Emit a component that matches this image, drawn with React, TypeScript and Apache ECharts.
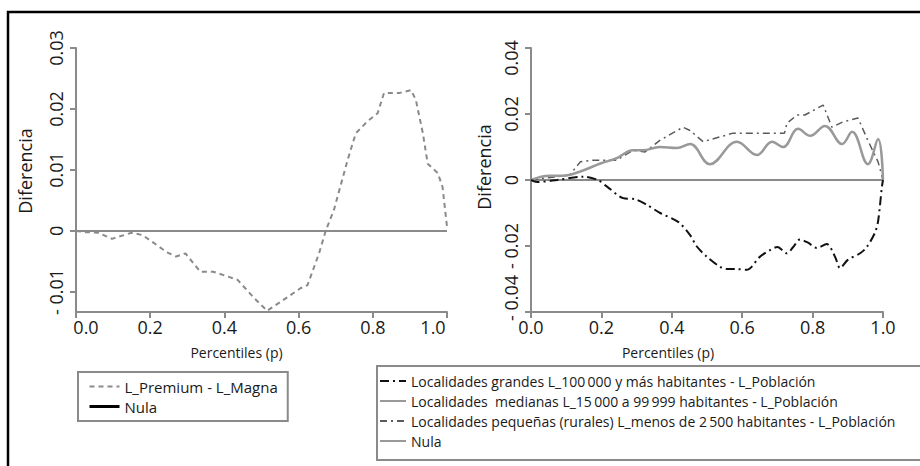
import React, { useEffect, useRef } from "react";
import * as echarts from "echarts";

// ---- Left chart data ----
const premiumP = [0, 0.024, 0.06, 0.097, 0.15, 0.18, 0.245, 0.27, 0.295, 0.335, 0.37, 0.435, 0.48, 0.515, 0.55, 0.605, 0.624, 0.655, 0.673, 0.695, 0.732, 0.754, 0.786, 0.813, 0.83, 0.87, 0.903, 0.916, 0.935, 0.948, 0.975, 0.988, 1.0];
const premiumV = [0, -0.0002, -0.0003, -0.0013, -0.0003, -0.0007, -0.0035, -0.0042, -0.0037, -0.0067, -0.0067, -0.008, -0.011, -0.0131, -0.0117, -0.0094, -0.0089, -0.0037, 0, 0.0034, 0.0116, 0.016, 0.018, 0.0193, 0.0226, 0.0226, 0.0231, 0.0215, 0.016, 0.011, 0.0095, 0.0072, 0.0007];

// ---- Right chart data ----
const grandesP = [0, 0.017, 0.074, 0.148, 0.19, 0.216, 0.262, 0.295, 0.33, 0.367, 0.418, 0.452, 0.47, 0.5, 0.537, 0.556, 0.585, 0.613, 0.65, 0.68, 0.7, 0.727, 0.745, 0.764, 0.787, 0.812, 0.84, 0.864, 0.878, 0.9, 0.935, 0.954, 0.977, 0.986, 0.997, 1.0];
const grandesV = [0, -0.0006, 0, 0.001, 0, -0.002, -0.0055, -0.0058, -0.0076, -0.01, -0.0127, -0.0167, -0.02, -0.0233, -0.0263, -0.027, -0.027, -0.0272, -0.0233, -0.0212, -0.0203, -0.0222, -0.0203, -0.018, -0.019, -0.0206, -0.0194, -0.0233, -0.0267, -0.0242, -0.0222, -0.0203, -0.016, -0.0125, -0.002, 0];

const medianasP = [0, 0.053, 0.09, 0.138, 0.197, 0.243, 0.29, 0.318, 0.366, 0.414, 0.452, 0.508, 0.585, 0.642, 0.685, 0.716, 0.759, 0.793, 0.835, 0.884, 0.912, 0.957, 0.986, 1.0];
const medianasV = [0, 0.0013, 0.0013, 0.0025, 0.005, 0.0066, 0.009, 0.009, 0.01, 0.0097, 0.0109, 0.0048, 0.0116, 0.0076, 0.0116, 0.01, 0.0155, 0.0134, 0.0164, 0.0109, 0.0146, 0.0048, 0.0124, 0];

const pequenasP = [0, 0.11, 0.14, 0.177, 0.243, 0.29, 0.324, 0.366, 0.432, 0.452, 0.489, 0.574, 0.65, 0.72, 0.727, 0.756, 0.778, 0.83, 0.855, 0.886, 0.929, 0.957, 0.986, 1.0];
const pequenasV = [0, 0.0015, 0.0055, 0.006, 0.006, 0.009, 0.0085, 0.012, 0.016, 0.015, 0.0116, 0.0142, 0.0142, 0.0142, 0.0172, 0.0197, 0.0197, 0.0227, 0.016, 0.0176, 0.0188, 0.012, 0.0055, 0];

const nulaP = [0, 1];
const nulaV = [0, 0];

// ---- Ticks / labels ----
const leftYTicks = [-0.01, 0, 0.01, 0.02, 0.03];

const NAME_PREMIUM = "L_Premium - L_Magna";
const NAME_NULA = "Nula";
const NAME_GRANDES = "Localidades grandes L_100\u2009000 y más habitantes - L_Población";
const NAME_MEDIANAS = "Localidades  medianas L_15\u2009000 a 99\u2009999 habitantes - L_Población";
const NAME_PEQUENAS = "Localidades pequeñas (rurales) L_menos de 2\u2009500 habitantes - L_Población";

const FONT = "'Open Sans', 'Noto Sans', sans-serif";
const AXIS_COLOR = "#8a8a8a";
const LABEL_COLOR = "#1a1a1a";

const zip = (xs: number[], ys: number[]) => xs.map((x, i) => [x, ys[i]]);

const yText = (v: number) => {
  if (Math.abs(v) < 1e-9) return "0";
  if (v < 0) return "- " + Math.abs(v).toFixed(2);
  return v.toFixed(2);
};

const labelBase = { fontFamily: FONT, fontSize: 18, color: LABEL_COLOR };

const yRich = {
  n: { ...labelBase },
  dn: { ...labelBase, padding: [0, 20, 0, 0] },
  up: { ...labelBase, padding: [0, 0, 0, 28] },
};

const xRich = {
  n: { ...labelBase },
  r: { ...labelBase, padding: [0, 0, 0, 20] },
  l: { ...labelBase, padding: [0, 28, 0, 0] },
};

function xAxisCfg(gridIndex: number, padRight: number, nudgeEnds: boolean) {
  return {
    type: "value",
    gridIndex,
    min: 0,
    max: 1,
    interval: 0.2,
    name: "Percentiles (p)",
    nameLocation: "middle",
    nameGap: 33,
    nameTextStyle: { fontFamily: FONT, fontSize: 14, color: LABEL_COLOR, padding: [0, padRight, 0, 0] },
    axisLine: { show: true, onZero: false, lineStyle: { color: AXIS_COLOR, width: 2 } },
    axisTick: { show: true, length: 6, lineStyle: { color: AXIS_COLOR, width: 2 } },
    axisLabel: {
      ...labelBase,
      margin: 6,
      rich: xRich,
      formatter: (v: number) => {
        const t = v.toFixed(1);
        if (nudgeEnds && v < 0.01) return "{r|" + t + "}";
        if (nudgeEnds && v > 0.99) return "{l|" + t + "}";
        return "{n|" + t + "}";
      },
    },
    splitLine: { show: false },
  };
}

export default function App() {
  const ref = useRef<HTMLDivElement>(null);
  useEffect(() => {
    if (!ref.current) return;
    const chart = echarts.init(ref.current, undefined, { renderer: "svg" });
    const option: any = {
      animation: false,
      backgroundColor: "#fff",
      textStyle: { fontFamily: FONT },
      grid: [
        { left: 76, right: 473, top: 48, bottom: 154 },
        { left: 531, right: 37, top: 48, bottom: 154 },
      ],
      xAxis: [xAxisCfg(0, 50, true), xAxisCfg(1, 78, false)],
      yAxis: [
        {
          type: "value",
          gridIndex: 0,
          min: -0.0133,
          max: 0.03,
          name: "Diferencia",
          nameLocation: "middle",
          nameGap: 42,
          nameTextStyle: { fontFamily: FONT, fontSize: 18, color: LABEL_COLOR, padding: [0, 0, 0, 18] },
          axisLine: { show: true, onZero: false, lineStyle: { color: AXIS_COLOR, width: 2 } },
          axisTick: { show: true, length: 6, customValues: leftYTicks, lineStyle: { color: AXIS_COLOR, width: 2 } },
          axisLabel: { ...labelBase, rotate: 90, margin: 11, customValues: leftYTicks, formatter: (v: number) => yText(v) },
          splitLine: { show: false },
        },
        {
          type: "value",
          gridIndex: 1,
          min: -0.04,
          max: 0.04,
          interval: 0.02,
          name: "Diferencia",
          nameLocation: "middle",
          nameGap: 38,
          nameTextStyle: { fontFamily: FONT, fontSize: 18, color: LABEL_COLOR, padding: [0, 0, 0, 26] },
          axisLine: { show: true, onZero: false, lineStyle: { color: AXIS_COLOR, width: 2 } },
          axisTick: { show: true, length: 6, lineStyle: { color: AXIS_COLOR, width: 2 } },
          axisLabel: {
            ...labelBase,
            rotate: 90,
            margin: 11,
            rich: yRich,
            formatter: (v: number) => {
              const t = yText(v);
              if (v > 0.039) return "{dn|" + t + "}";
              if (v < -0.039) return "{up|" + t + "}";
              return "{n|" + t + "}";
            },
          },
          splitLine: { show: false },
        },
      ],
      legend: [
        {
          orient: "vertical",
          left: 78,
          top: 372,
          padding: [7, 10, 7, 10],
          itemWidth: 30,
          itemHeight: 14,
          itemGap: 5,
          borderColor: AXIS_COLOR,
          borderWidth: 2,
          selectedMode: false,
          itemStyle: { opacity: 0 },
          textStyle: { fontFamily: FONT, fontSize: 15, color: LABEL_COLOR },
          data: [
            { name: NAME_PREMIUM },
            { name: NAME_NULA, lineStyle: { color: "#000", width: 3, type: "solid" } },
          ],
        },
        {
          orient: "vertical",
          left: 377,
          top: 366,
          padding: [8, 40, 12, 2],
          itemWidth: 26,
          itemHeight: 14,
          itemGap: 6,
          borderColor: AXIS_COLOR,
          borderWidth: 2,
          selectedMode: false,
          itemStyle: { opacity: 0 },
          textStyle: { fontFamily: FONT, fontSize: 14, color: LABEL_COLOR },
          data: [
            { name: NAME_GRANDES },
            { name: NAME_MEDIANAS },
            { name: NAME_PEQUENAS },
            { name: NAME_NULA, lineStyle: { color: "#999", width: 2, type: "solid" } },
          ],
        },
      ],
      series: [
        {
          name: NAME_NULA,
          type: "line",
          xAxisIndex: 0,
          yAxisIndex: 0,
          data: zip(nulaP, nulaV),
          symbol: "none",
          lineStyle: { color: AXIS_COLOR, width: 2 },
          itemStyle: { color: AXIS_COLOR },
          z: 1,
        },
        {
          name: NAME_PREMIUM,
          type: "line",
          xAxisIndex: 0,
          yAxisIndex: 0,
          data: zip(premiumP, premiumV),
          symbol: "none",
          lineStyle: { color: "#8a8a8a", width: 2, type: [5, 4] },
          itemStyle: { color: "#8a8a8a" },
          z: 3,
        },
        {
          name: NAME_NULA,
          type: "line",
          xAxisIndex: 1,
          yAxisIndex: 1,
          data: zip(nulaP, nulaV),
          symbol: "none",
          lineStyle: { color: AXIS_COLOR, width: 2 },
          itemStyle: { color: AXIS_COLOR },
          z: 1,
        },
        {
          name: NAME_GRANDES,
          type: "line",
          xAxisIndex: 1,
          yAxisIndex: 1,
          data: zip(grandesP, grandesV),
          symbol: "none",
          smooth: 0.3,
          lineStyle: { color: "#111", width: 2, type: [9, 4, 2, 4] },
          itemStyle: { color: "#111" },
          z: 4,
        },
        {
          name: NAME_MEDIANAS,
          type: "line",
          xAxisIndex: 1,
          yAxisIndex: 1,
          data: zip(medianasP, medianasV),
          symbol: "none",
          smooth: 0.4,
          lineStyle: { color: "#999", width: 2.5 },
          itemStyle: { color: "#999" },
          z: 3,
        },
        {
          name: NAME_PEQUENAS,
          type: "line",
          xAxisIndex: 1,
          yAxisIndex: 1,
          data: zip(pequenasP, pequenasV),
          symbol: "none",
          lineStyle: { color: "#5a5a5a", width: 1.5, type: [7, 4, 2, 4] },
          itemStyle: { color: "#5a5a5a" },
          z: 2,
        },
      ],
      graphic: [
        {
          type: "rect",
          silent: true,
          z: 100,
          shape: { x: 8, y: 12, width: 940, height: 480 },
          style: { fill: "none", stroke: "#000", lineWidth: 2.5 },
        },
      ],
    };
    chart.setOption(option);
    return () => chart.dispose();
  }, []);
  return (
    <div
      ref={ref}
      style={{ position: "fixed", left: 0, top: 0, width: 920, height: 466, background: "#fff" }}
    />
  );
}
